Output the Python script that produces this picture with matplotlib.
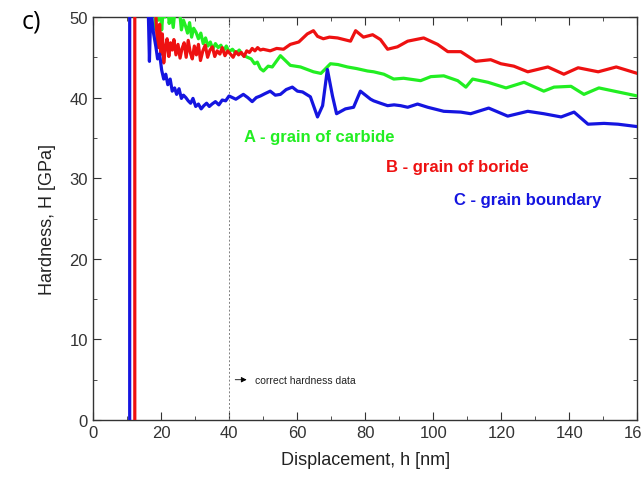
import matplotlib.pyplot as plt
from matplotlib.ticker import MultipleLocator

plt.rcParams["font.family"] = ["Liberation Sans", "DejaVu Sans"]

# Blue: C - grain boundary
blue_x = [10.8, 10.8, 15.5, 16.2, 16.6, 17.0, 17.8, 18.5, 19.0, 19.6, 20.2, 20.8, 21.4, 22.0, 22.7,
          23.3, 24.0, 24.6, 25.3, 26.0, 26.6, 27.3, 28.0, 28.7, 29.4, 30.2, 31.0, 31.8, 32.6, 33.4,
          34.2, 35.0, 36.0, 37.0, 38.0, 39.0, 40.0, 42.0, 44.2, 45.5, 46.8, 48.0, 49.2, 50.6, 52.1,
          53.6, 55.1, 56.8, 58.6, 60.1, 61.6, 63.9, 66.0, 67.5, 68.9, 70.4, 71.6, 74.2, 76.6, 78.6,
          81.6, 82.5, 84.5, 86.6, 88.5, 90.4, 92.5, 95.4, 98.4, 103.1, 108.1, 111.0, 116.3, 121.9,
          127.8, 132.5, 137.6, 141.4, 145.5, 150.2, 154.3, 160.0]
blue_y = [0, 200, 80, 52, 44.5, 51, 48, 46.3, 44.8, 45.4, 43.4, 42.3, 42.9, 41.6, 42.3,
          40.8, 41.2, 40.4, 41.1, 39.9, 40.3, 40.0, 39.6, 39.3, 39.9, 38.9, 39.2, 38.6, 39.0, 39.3,
          38.9, 39.2, 39.5, 39.1, 39.7, 39.6, 40.2, 39.8, 40.4, 40.0, 39.5, 40.0, 40.2, 40.5, 40.8,
          40.3, 40.4, 41.0, 41.3, 40.8, 40.7, 40.1, 37.6, 39.0, 43.5, 40.2, 38.0, 38.6, 38.8, 40.8,
          39.8, 39.6, 39.3, 39.0, 39.1, 39.0, 38.8, 39.2, 38.8, 38.3, 38.2, 38.0, 38.7, 37.7,
          38.3, 38.0, 37.6, 38.2, 36.7, 36.8, 36.7, 36.4]

# Red: B - grain of boride
red_x = [12.3, 12.3, 17.0, 18.3, 18.8, 19.2, 19.6, 20.0, 20.4, 20.8, 21.3, 21.8, 22.3, 22.8, 23.3,
         23.8, 24.4, 25.0, 25.6, 26.2, 26.8, 27.4, 28.0, 28.6, 29.2, 29.8, 30.4, 31.0, 31.6, 32.3,
         33.0, 33.7, 34.4, 35.1, 35.8, 36.5, 37.3, 38.0, 38.8, 39.6, 40.4, 41.2, 42.0, 42.8, 43.6,
         44.4, 45.2, 46.0, 46.8, 47.6, 48.4, 49.2, 50.0, 52.1, 54.0, 56.0, 58.0, 60.5, 63.0, 64.8,
         66.0, 67.7, 69.5, 71.9, 73.8, 75.7, 77.2, 79.5, 82.2, 84.5, 86.6, 89.5, 92.5, 97.2, 101.3,
         104.3, 108.1, 112.5, 116.9, 119.9, 123.7, 127.8, 133.7, 138.4, 142.6, 148.5, 153.8, 160.0]
red_y = [0, 200, 80, 52, 47.6, 46.2, 49.1, 45.4, 47.9, 44.3, 46.2, 47.3, 45.1, 46.8, 45.9,
         47.2, 45.3, 46.6, 44.9, 46.1, 46.8, 45.0, 47.1, 45.6, 44.8, 46.4, 45.3, 46.6, 44.6, 45.8,
         46.5, 45.0, 45.9, 46.3, 45.1, 45.8, 45.4, 46.2, 45.2, 45.8, 45.4, 45.0, 45.7, 45.3, 45.6,
         45.1, 45.8, 45.6, 46.1, 45.8, 46.2, 45.9, 46.0, 45.8, 46.1, 46.0, 46.6, 46.9, 47.9, 48.3,
         47.6, 47.3, 47.5, 47.4, 47.2, 47.0, 48.3, 47.5, 47.8, 47.2, 46.0, 46.3, 47.0, 47.4, 46.6,
         45.7, 45.7, 44.5, 44.7, 44.2, 43.9, 43.2, 43.8, 42.9, 43.7, 43.2, 43.8, 43.0]

# Green: A - grain of carbide
green_x = [18.0, 18.3, 18.7, 19.2, 19.7, 20.2, 20.7, 21.2, 21.8, 22.4, 23.0, 23.6, 24.2, 24.8, 25.4,
           26.0, 26.6, 27.2, 27.8, 28.4, 29.0, 29.6, 30.3, 31.0, 31.7, 32.4, 33.1, 33.8, 34.5, 35.2,
           36.0, 36.8, 37.6, 38.4, 39.2, 40.0, 41.0, 42.0, 43.0, 44.0, 45.4, 46.5, 47.5, 48.3, 49.2,
           50.1, 51.5, 52.7, 55.1, 58.0, 61.0, 64.8, 67.0, 69.8, 72.0, 74.8, 77.5, 80.7, 82.5, 85.5,
           88.4, 91.3, 96.3, 99.3, 103.1, 107.2, 109.6, 111.6, 116.1, 121.4, 126.7, 132.5, 135.5,
           140.5, 144.3, 148.7, 153.2, 160.0]
green_y = [60, 48.5, 53, 49.6, 52, 48.4, 51.2, 50.0, 52.5, 49.2, 50.6, 48.7, 51.3, 50.2, 51.0,
           48.4, 49.6, 48.9, 48.0, 49.3, 47.5, 48.6, 48.1, 47.3, 48.0, 46.7, 47.4, 46.4, 46.9, 46.0,
           46.7, 46.2, 46.5, 45.8, 46.4, 45.7, 46.0, 45.5, 45.9, 45.3, 45.0, 44.8, 44.2, 44.4, 43.6,
           43.3, 43.9, 43.8, 45.2, 44.0, 43.8, 43.2, 43.0, 44.2, 44.1, 43.8, 43.6, 43.3, 43.2, 42.9,
           42.3, 42.4, 42.1, 42.6, 42.7, 42.1, 41.3, 42.3, 41.9, 41.2, 41.9, 40.8, 41.3,
           41.4, 40.4, 41.2, 40.8, 40.2]

GREEN = "#22ee22"
RED = "#ee1111"
BLUE = "#1515e0"

fig = plt.figure(figsize=(6.41, 4.81), dpi=100)
ax = fig.add_axes([0.145, 0.1247, 0.8493, 0.8379])

ax.plot(green_x, green_y, color=GREEN, lw=2.3, zorder=3)
ax.plot(red_x, red_y, color=RED, lw=2.3, zorder=4)
ax.plot(blue_x, blue_y, color=BLUE, lw=2.3, zorder=5)

ax.axvline(40, color="grey", ls=(0, (2, 2)), lw=0.7, zorder=2)
ax.annotate("", xy=(46, 5.0), xytext=(41, 5.0),
            arrowprops=dict(arrowstyle="-|>", color="black", lw=0.6, mutation_scale=8))
ax.text(47.5, 5.0, "correct hardness data", fontsize=7.5, va="center", color="#222222")

ax.text(44.5, 35.2, "A - grain of carbide", color=GREEN, fontsize=12, fontweight="bold", va="center")
ax.text(86.0, 31.5, "B - grain of boride", color=RED, fontsize=12, fontweight="bold", va="center")
ax.text(106.0, 27.4, "C - grain boundary", color=BLUE, fontsize=12, fontweight="bold", va="center")

ax.set_xlim(0, 160)
ax.set_ylim(0, 50)
ax.xaxis.set_major_locator(MultipleLocator(20))
ax.xaxis.set_minor_locator(MultipleLocator(10))
ax.yaxis.set_major_locator(MultipleLocator(10))
ax.yaxis.set_minor_locator(MultipleLocator(5))
ax.tick_params(which="both", direction="in", top=True, right=True, labelsize=12,
               color="#333333", labelcolor="#333333")
ax.tick_params(which="major", length=6)
ax.tick_params(which="minor", length=3)
for s in ax.spines.values():
    s.set_color("#333333")
    s.set_linewidth(1.0)

ax.set_xlabel("Displacement, h [nm]", fontsize=13, labelpad=8, color="#222222")
ax.set_ylabel("Hardness, H [GPa]", fontsize=13, labelpad=10, color="#222222")

fig.text(0.033, 0.955, "c)", fontsize=18, ha="left", va="center", family="Open Sans")

plt.savefig("out.png", dpi=100)
